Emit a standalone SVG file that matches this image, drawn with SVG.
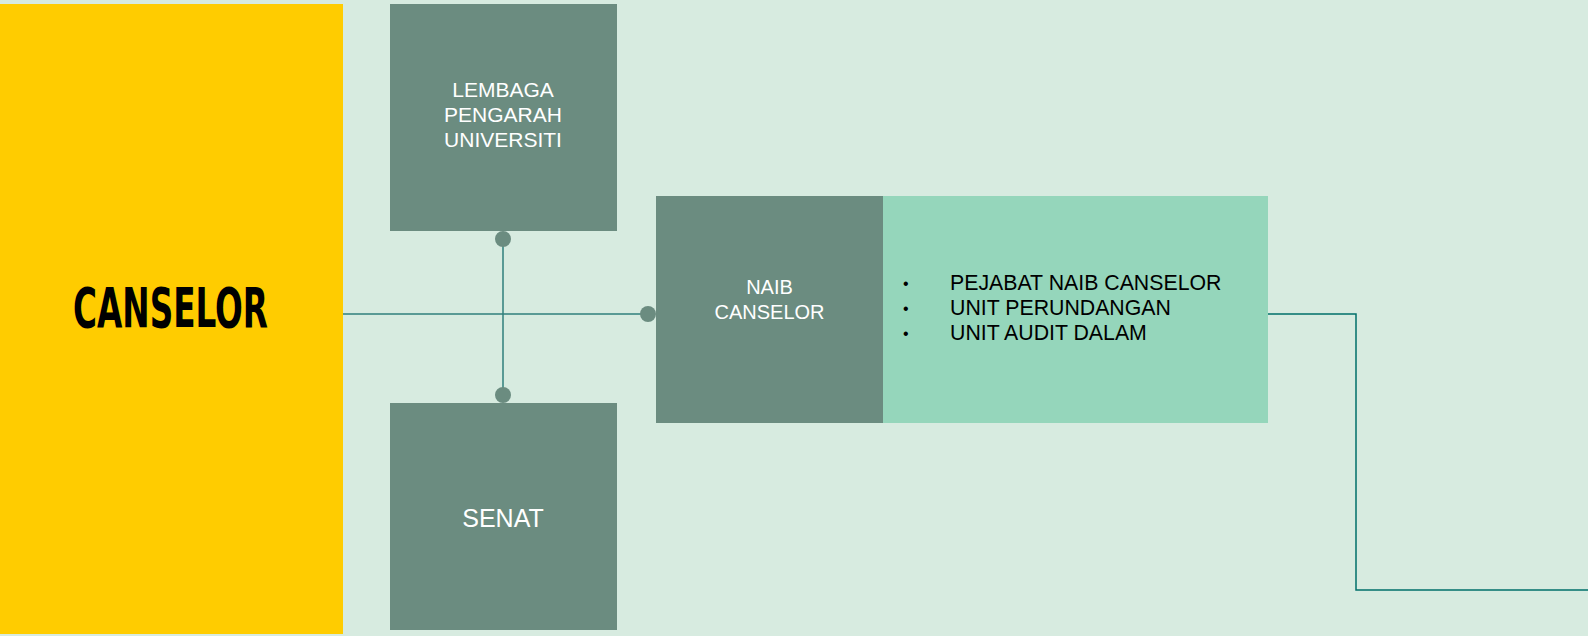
<svg xmlns="http://www.w3.org/2000/svg" width="1588" height="636" viewBox="0 0 1588 636">
<style>
.box{fill:#6b8c80}
.wt{fill:#ffffff;font-family:"Liberation Sans",Arial,sans-serif;text-anchor:middle}
.bt{fill:#000000;font-family:"Liberation Sans",Arial,sans-serif;font-size:21.3px}
.bul{fill:#000000;font-family:"Liberation Sans",Arial,sans-serif;font-size:16px}
.ln{stroke:#2f7f7c;stroke-width:1.5;fill:none}
.ln2{stroke:#00706a;stroke-width:1.5;fill:none}
.dot{fill:#6b8c80}
</style>
<rect x="0" y="0" width="1588" height="636" fill="#d7ebe0"/>
<g id="canselor">
<rect x="0" y="4" width="343" height="630" fill="#ffcc00"/>
<text x="170.5" y="327" font-family="'DejaVu Sans Condensed','DejaVu Sans',sans-serif" font-weight="bold" font-size="55" text-anchor="middle" textLength="195" lengthAdjust="spacingAndGlyphs" fill="#000">CANSELOR</text>
</g>
<g id="connectors">
<line class="ln" x1="343" y1="314" x2="648" y2="314"/>
<line class="ln" x1="503" y1="239" x2="503" y2="395"/>
<polyline class="ln2" points="1268,314 1356,314 1356,590 1588,590"/>
<circle class="dot" cx="503" cy="239" r="8"/>
<circle class="dot" cx="503" cy="395" r="8"/>
<circle class="dot" cx="648" cy="314" r="8"/>
</g>
<g id="lembaga">
<rect class="box" x="390" y="4" width="227" height="227"/>
<text class="wt" font-size="21"><tspan x="503" y="97">LEMBAGA</tspan><tspan x="503" y="122">PENGARAH</tspan><tspan x="503" y="147">UNIVERSITI</tspan></text>
</g>
<g id="senat">
<rect class="box" x="390" y="403" width="227" height="227"/>
<text class="wt" font-size="25" x="503" y="527">SENAT</text>
</g>
<g id="naib">
<rect class="box" x="656" y="196" width="227" height="227"/>
<text class="wt" font-size="20"><tspan x="769.5" y="294">NAIB</tspan><tspan x="769.5" y="319">CANSELOR</tspan></text>
</g>
<g id="unit">
<rect x="883" y="196" width="385" height="227" fill="#95d6bb"/>
<text class="bul"><tspan x="903" y="289">•</tspan><tspan x="903" y="314">•</tspan><tspan x="903" y="339">•</tspan></text>
<text class="bt"><tspan x="950" y="290">PEJABAT NAIB CANSELOR</tspan><tspan x="950" y="315">UNIT PERUNDANGAN</tspan><tspan x="950" y="340">UNIT AUDIT DALAM</tspan></text>
</g>
</svg>
